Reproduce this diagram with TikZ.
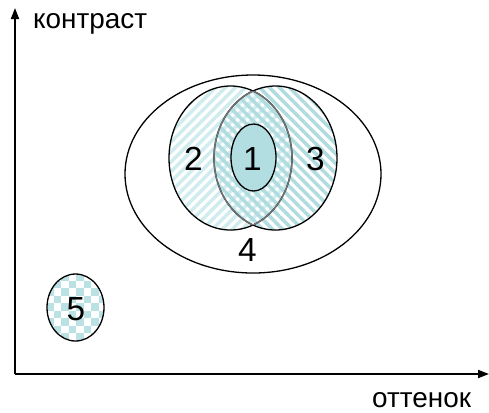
\documentclass[tikz,border=0pt]{standalone}
\usepackage{fontspec}
\setmainfont{Liberation Sans}
\usetikzlibrary{arrows.meta,shapes.geometric,patterns.meta}
\definecolor{tsolid}{RGB}{178,222,225}
\definecolor{tstripeA}{RGB}{208,236,238}
\definecolor{tstripeB}{RGB}{176,220,224}
\definecolor{tcheck}{RGB}{186,226,229}
\tikzset{
  ell/.style={ellipse, inner sep=0pt, outer sep=0pt, line width=1.3bp},
  num/.style={inner sep=0pt, font=\fontsize{33.5}{38}\selectfont},
  axlabel/.style={inner sep=0pt, font=\fontsize{28}{32}\selectfont},
  axis/.style={line width=1.8bp, -{Triangle[length=11bp,width=8bp]}},
}
\begin{document}
\begin{tikzpicture}[x=1bp,y=-1bp]
\useasboundingbox (0,0) rectangle (489,412);
% axes
\coordinate (O) at (15,374);
\coordinate (Y) at (15,8);
\coordinate (X) at (489,374);
\draw[axis] (O) -- (Y);
\draw[axis] (O) -- (X);
\node[axlabel, anchor=base west] (ylab) at (33,28) {контраст};
\node[axlabel, anchor=base west] (xlab) at (372,407) {оттенок};
% big ellipse 4
\node[ell, draw, minimum width=256bp, minimum height=198bp] (e4) at (253,174) {};
% ellipses 2 and 3 fills
\node[ell, minimum width=123bp, minimum height=144bp,
  pattern={Lines[angle=45,distance=7bp,line width=3.5bp]}, pattern color=tstripeA] (e2) at (230.5,158) {};
\node[ell, minimum width=123bp, minimum height=144bp,
  pattern={Lines[angle=-45,distance=7bp,line width=3.5bp]}, pattern color=tstripeB] (e3) at (275.5,158) {};
% outlines
\draw[line width=1.3bp] (230.5,158) ellipse [x radius=61.5, y radius=72];
\draw[line width=1.3bp] (275.5,158) ellipse [x radius=61.5, y radius=72];
\begin{scope}
  \clip (230.5,158) ellipse [x radius=61.5, y radius=72];
  \draw[line width=1.4bp, black!55] (275.5,158) ellipse [x radius=61.5, y radius=72];
\end{scope}
\begin{scope}
  \clip (275.5,158) ellipse [x radius=61.5, y radius=72];
  \draw[line width=1.4bp, black!55] (230.5,158) ellipse [x radius=61.5, y radius=72];
\end{scope}
% ellipse 1
\node[ell, draw, fill=tsolid, minimum width=45bp, minimum height=67bp] (e1) at (253.5,157.5) {};
% ellipse 5 with checkerboard
\node[ell, minimum width=57bp, minimum height=67bp] (e5) at (75.5,307.5) {};
\begin{scope}
  \clip (75.5,307.5) ellipse [x radius=28.5, y radius=33.5];
  \foreach \i in {0,...,8}{
    \foreach \j in {0,...,9}{
      \pgfmathtruncatemacro{\myparity}{mod(\i+\j,2)}
      \ifnum\myparity=0
        \fill[tcheck] (46+\i*7.5,273+\j*7.5) rectangle ++(7.5,7.5);
      \fi
    }
  }
\end{scope}
\draw[line width=1.3bp] (e5.center) ellipse [x radius=28.5, y radius=33.5];
% labels
\node[num] (n1) at (252.5,159) {1};
\node[num] (n2) at (193.5,159) {2};
\node[num] (n3) at (315.5,159) {3};
\node[num] (n4) at (247.5,250) {4};
\node[num] (n5) at (76,309.5) {5};
\end{tikzpicture}
\end{document}
